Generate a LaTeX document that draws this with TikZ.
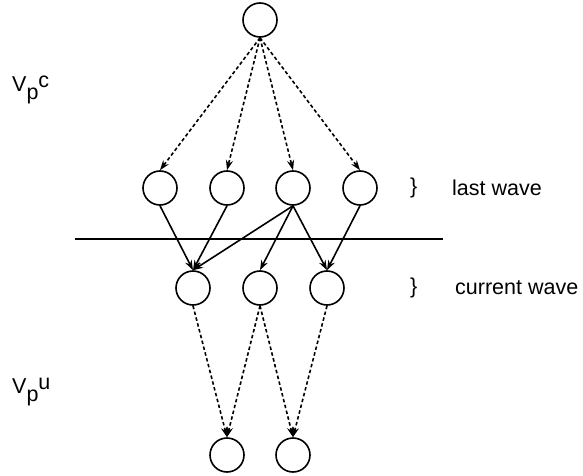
\documentclass[tikz,border=0pt]{standalone}
\usepackage{fontspec}
\setmainfont{Liberation Sans}
\usetikzlibrary{arrows.meta}
\begin{document}
\begin{tikzpicture}[x=1pt,y=-1pt,
  nd/.style={circle,draw,line width=1.6pt,minimum size=34pt,inner sep=0pt},
  dsh/.style={line width=1.6pt,dash pattern=on 3.5pt off 2.5pt,-{Stealth[length=10pt,width=7pt]}},
  sol/.style={line width=1.6pt,-{Stealth[length=10pt,width=7pt]}},
  lbl/.style={font=\fontsize{21.5}{25}\selectfont,inner sep=0pt,anchor=west}]
\useasboundingbox (0,0) rectangle (583,476);
\node[nd] (top) at (260,20) {};
\node[nd] (w1) at (160,188) {};
\node[nd] (w2) at (227,188) {};
\node[nd] (w3) at (293,188) {};
\node[nd] (w4) at (360,188) {};
\node[nd] (c1) at (193,288) {};
\node[nd] (c2) at (260,288) {};
\node[nd] (c3) at (327,288) {};
\node[nd] (b1) at (227,455) {};
\node[nd] (b2) at (293,455) {};
\coordinate (lineL) at (75,239);
\coordinate (lineR) at (443,239);
\draw[line width=2.8pt] (lineL) -- (lineR);
\foreach \w in {w1,w2,w3,w4} \draw[dsh] (top.south) -- (\w.north);
\draw[sol] (w1.south) -- (c1.north);
\draw[sol] (w2.south) -- (c1.north);
\draw[sol] (w3.south) -- (c1.north);
\draw[sol] (w3.south) -- (c2.north);
\draw[sol] (w3.south) -- (c3.north);
\draw[sol] (w4.south) -- (c3.north);
\draw[dsh] (c1.south) -- (b1.north);
\draw[dsh] (c2.south) -- (b1.north);
\draw[dsh] (c2.south) -- (b2.north);
\draw[dsh] (c3.south) -- (b2.north);
\node[lbl] (vc) at (12,90) {V\raisebox{-8pt}{p}\raisebox{4pt}{c}};
\node[lbl] (vu) at (12,392) {V\raisebox{-8pt}{p}\raisebox{4pt}{u}};
\node[lbl] (br1) at (410,188) {\}};
\node[lbl] (lw) at (452,188) {last wave};
\node[lbl] (br2) at (410,288) {\}};
\node[lbl] (cw) at (455,288) {current wave};
\end{tikzpicture}
\end{document}
